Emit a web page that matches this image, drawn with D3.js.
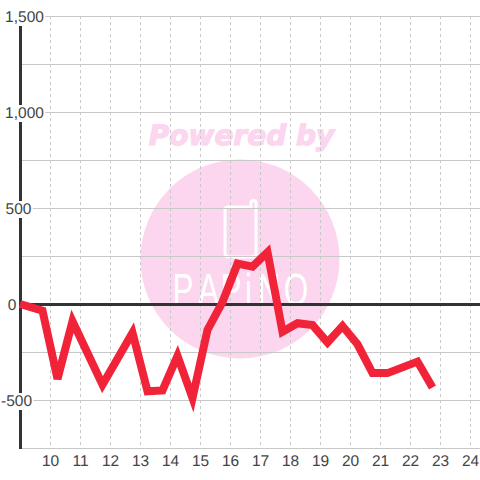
<!DOCTYPE html>
<html><head><meta charset="utf-8">
<script src="https://cdn.jsdelivr.net/npm/d3@7/dist/d3.min.js"></script>
<style>html,body{margin:0;padding:0;background:#fff}svg{display:block}text{text-rendering:geometricPrecision}</style></head>
<body><svg id="c" width="480" height="480"></svg>
<script>
const hours=[9,9.75,10.25,10.75,11.75,12.75,13.25,13.75,14.25,14.75,15.25,15.75,16.25,16.75,17.25,17.75,18.25,18.75,19.25,19.75,20.25,20.75,21.25,22.25,22.75];
const values=[0,-35,-390,-90,-420,-150,-455,-450,-270,-490,-135,10,210,195,270,-145,-100,-110,-200,-115,-210,-360,-360,-300,-435];
const xTicks=[10,11,12,13,14,15,16,17,18,19,20,21,22,23,24];
const yGrid=[1500,1250,1000,750,500,250,0,-250,-500,-750];
const yLabels=['1,500','1,000','500','0','-500'];
const yLabelValues=[1500,1000,500,0,-500];
const yLabelCenters=[24.5,24.5,18.5,12,16.5];
const wmLetters=['P','A','P','i','N','O'];
const wmLetterX=[183,208.5,231,248.5,269,296];
const svg=d3.select('#c');
const x=d3.scaleLinear().domain([9,24.3333]).range([20,480]);
const y=d3.scaleLinear().domain([1500,-750]).range([16,448]);
const pink='#fcd5ee';
const wm=svg.append('g');
wm.append('text').attr('x',241.5).attr('y',144.5).attr('text-anchor','middle').attr('fill',pink).attr('stroke',pink).attr('stroke-width',1.2)
  .style('font','italic bold 28px "DejaVu Sans"').text('Powered by');
wm.append('circle').attr('cx',240).attr('cy',259).attr('r',99.5).attr('fill',pink);
wm.append('path').attr('d','M228 207H251V203Q251 200.5 253.5 200.5Q256 200.5 256 203V253Q256 257 252 257H229Q225 257 225 253V210Q225 207 228 207Z')
  .attr('fill','none').attr('stroke','#fff').attr('stroke-width',3);
wm.selectAll('text.l').data(wmLetters).join('text').attr('class','l')
  .attr('transform',(d,i)=>`translate(${wmLetterX[i]},305) scale(.7,1)`).attr('text-anchor','middle').attr('fill','#fff')
  .style('font','45px "Liberation Sans"').text(d=>d);
const grid=svg.append('g');
grid.selectAll('line.h').data(yGrid.filter(v=>v!==0)).join('line').attr('class','h')
  .attr('x1',20).attr('x2',480).attr('y1',d=>y(d)+.5).attr('y2',d=>y(d)+.5).attr('stroke','#c8c8c8').attr('stroke-width',1);
grid.selectAll('line.v').data(xTicks).join('line').attr('class','v')
  .attr('x1',d=>x(d)+.5).attr('x2',d=>x(d)+.5).attr('y1',16).attr('y2',448)
  .attr('stroke','#c8c8c8').attr('stroke-width',1).attr('stroke-dasharray','3 3');
svg.append('line').attr('x1',20).attr('x2',480).attr('y1',y(0)+.5).attr('y2',y(0)+.5).attr('stroke','#333').attr('stroke-width',3);
svg.append('line').attr('x1',20.5).attr('x2',20.5).attr('y1',16).attr('y2',449).attr('stroke','#333').attr('stroke-width',3);
const yl=svg.append('g').style('font','15.5px "Liberation Sans"').attr('fill','#444');
const labels=yl.selectAll('g').data(yLabels).join('g');
labels.append('text').attr('x',(d,i)=>yLabelCenters[i]).attr('y',(d,i)=>y(yLabelValues[i])+6).attr('text-anchor','middle').text(d=>d);
labels.each(function(){
  const g=d3.select(this),b=g.select('text').node().getBBox();
  g.insert('rect','text').attr('x',b.x).attr('y',b.y).attr('width',b.width+1).attr('height',b.height).attr('fill','#fff');
});
svg.append('path').datum(hours.map((h,i)=>[h,values[i]]))
  .attr('d',d3.line().x(d=>x(d[0])).y(d=>y(d[1])))
  .attr('fill','none').attr('stroke','#f02339').attr('stroke-width',8).attr('stroke-linejoin','miter').attr('stroke-linecap','butt');
svg.append('g').style('font','15.5px "Liberation Sans"').attr('fill','#444')
  .selectAll('text').data(xTicks).join('text').attr('x',d=>x(d)+.5).attr('y',466).attr('text-anchor','middle').text(d=>d);
</script></body></html>
